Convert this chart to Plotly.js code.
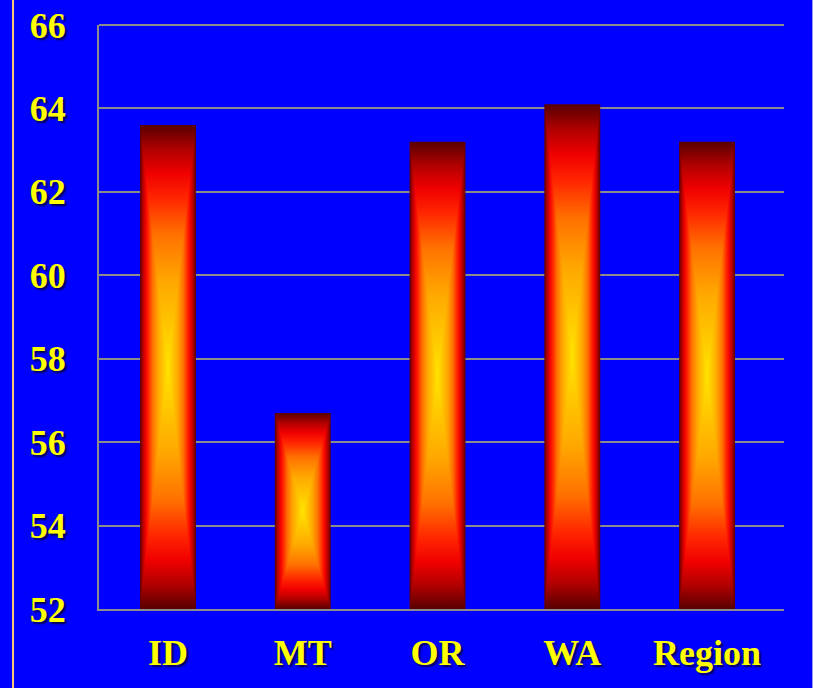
<!DOCTYPE html>
<html>
<head>
<meta charset="utf-8">
<script src="https://cdn.plot.ly/plotly-3.0.1.min.js"></script>
<style>
  html, body { margin: 0; padding: 0; background: #0000ff; }
  #chart { width: 813px; height: 688px; }
</style>
</head>
<body>
<div id="chart"></div>
<script>
// Categories and values
const categories = ["ID", "MT", "OR", "WA", "Region"];
const values = [63.6, 56.7, 63.2, 64.1, 63.2];
const axisMin = 52;
const axisMax = 66;
const tickValues = [52, 54, 56, 58, 60, 62, 64, 66];

const labelFont = {
  family: "Liberation Serif, Times New Roman, serif",
  size: 36,
  color: "#ffff00",
  weight: "bold",
  shadow: "2px 2px 2px #000050"
};

const gridColor = "#8c8c8c";

const trace = {
  type: "bar",
  x: categories,
  y: values.map(v => v - axisMin),
  base: axisMin,
  width: 0.415,
  marker: { color: "#ff2000", line: { width: 0 } },
  hoverinfo: "skip"
};

const layout = {
  width: 813,
  height: 688,
  margin: { l: 99, r: 29, t: 25, b: 79, pad: 0 },
  paper_bgcolor: "#0000ff",
  plot_bgcolor: "#0000ff",
  showlegend: false,
  xaxis: {
    type: "category",
    range: [-0.512, 4.571],
    showgrid: false,
    zeroline: false,
    showline: true,
    linecolor: gridColor,
    linewidth: 2,
    ticks: "",
    ticklabelstandoff: 11,
    tickfont: labelFont
  },
  yaxis: {
    range: [axisMin, axisMax],
    tickvals: tickValues,
    ticktext: tickValues.map(String),
    showgrid: true,
    gridcolor: gridColor,
    gridwidth: 2,
    zeroline: false,
    showline: true,
    linecolor: gridColor,
    linewidth: 2,
    ticks: "",
    ticklabelstandoff: 24,
    tickfont: labelFont
  },
  shapes: [
    // top gridline along the upper edge of the plot
    { type: "line", xref: "paper", yref: "paper",
      x0: 0, x1: 1, y0: 1, y1: 1,
      line: { color: gridColor, width: 2 } },
    // slide borders
    { type: "line", xref: "paper", yref: "paper",
      x0: -0.1255, x1: -0.1255, y0: -0.14, y1: 1.05,
      line: { color: "#ffc870", width: 2 } },
    { type: "line", xref: "paper", yref: "paper",
      x0: 1.0416, x1: 1.0416, y0: -0.14, y1: 1.05,
      line: { color: "#9a9ae8", width: 1 } }
  ]
};

// Rectangular "from centre" gradient: dark edges, yellow core.
const stops = [
  [0.00, "#580000"],
  [0.10, "#b00000"],
  [0.20, "#f00000"],
  [0.30, "#ff2400"],
  [0.45, "#ff7000"],
  [0.65, "#ffa800"],
  [1.00, "#ffe400"]
];

function applyBarGradient(gd) {
  const svg = gd.querySelector("svg.main-svg");
  const NS = "http://www.w3.org/2000/svg";
  let defs = svg.querySelector("defs");
  if (!defs) { defs = document.createElementNS(NS, "defs"); svg.insertBefore(defs, svg.firstChild); }

  function linGrad(id, x1, y1, x2, y2, mirrored) {
    const g = document.createElementNS(NS, "linearGradient");
    g.setAttribute("id", id);
    g.setAttribute("x1", x1); g.setAttribute("y1", y1);
    g.setAttribute("x2", x2); g.setAttribute("y2", y2);
    const list = mirrored
      ? stops.map(s => [s[0] / 2, s[1]]).concat(stops.slice(0, -1).reverse().map(s => [1 - s[0] / 2, s[1]]))
      : stops;
    list.forEach(s => {
      const st = document.createElementNS(NS, "stop");
      st.setAttribute("offset", s[0]);
      st.setAttribute("stop-color", s[1]);
      g.appendChild(st);
    });
    defs.appendChild(g);
  }
  linGrad("gradH", 0, 0, 1, 0, true);
  linGrad("gradTop", 0, 0, 0, 1, false);
  linGrad("gradBottom", 0, 1, 0, 0, false);

  const pat = document.createElementNS(NS, "pattern");
  pat.setAttribute("id", "barFill");
  pat.setAttribute("patternUnits", "objectBoundingBox");
  pat.setAttribute("patternContentUnits", "objectBoundingBox");
  pat.setAttribute("width", 1);
  pat.setAttribute("height", 1);

  const rect = document.createElementNS(NS, "rect");
  rect.setAttribute("x", 0); rect.setAttribute("y", 0);
  rect.setAttribute("width", 1); rect.setAttribute("height", 1);
  rect.setAttribute("fill", "url(#gradH)");
  pat.appendChild(rect);

  const top = document.createElementNS(NS, "polygon");
  top.setAttribute("points", "0,0 1,0 0.5,0.5");
  top.setAttribute("fill", "url(#gradTop)");
  pat.appendChild(top);

  const bottom = document.createElementNS(NS, "polygon");
  bottom.setAttribute("points", "0,1 1,1 0.5,0.5");
  bottom.setAttribute("fill", "url(#gradBottom)");
  pat.appendChild(bottom);

  defs.appendChild(pat);

  gd.querySelectorAll(".bars .point path").forEach(p => {
    p.style.fill = "url(#barFill)";
    p.style.fillOpacity = 1;
  });
}

Plotly.newPlot("chart", [trace], layout, { staticPlot: true, displayModeBar: false })
  .then(applyBarGradient);
</script>
</body>
</html>
